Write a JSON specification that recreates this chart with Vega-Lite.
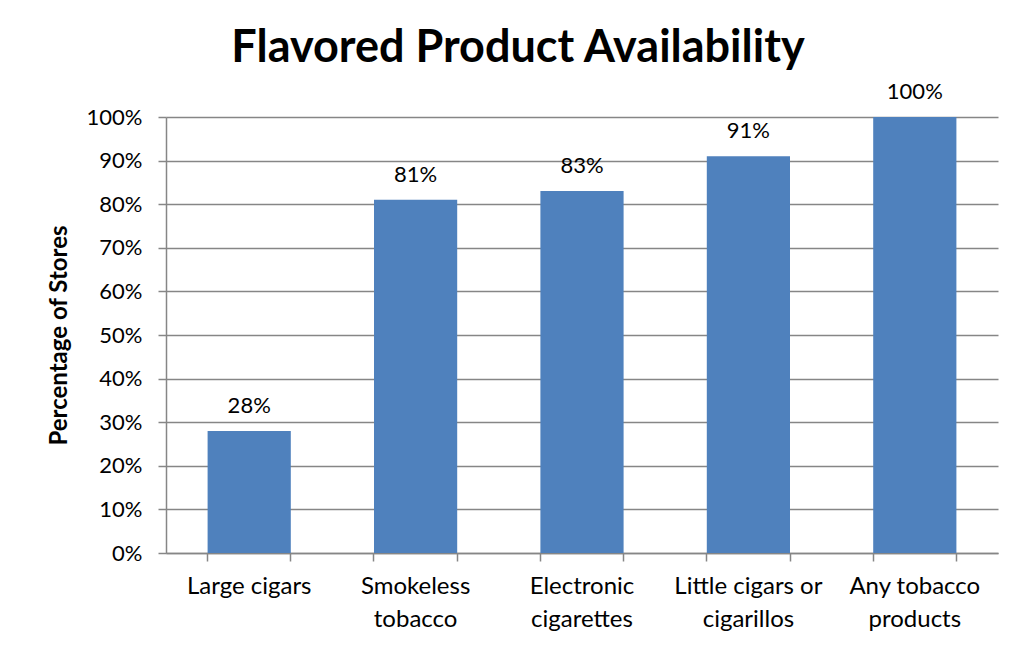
{
  "$schema": "https://vega.github.io/schema/vega-lite/v6.json",
  "width": 832,
  "height": 436,
  "autosize": "none",
  "padding": {"left": 166, "top": 117, "right": 18, "bottom": 96},
  "background": "white",
  "title": {
    "text": "Flavored Product Availability",
    "font": "Lato",
    "fontSize": 45,
    "fontWeight": "bold",
    "color": "black",
    "anchor": "middle",
    "baseline": "alphabetic",
    "dx": -64,
    "dy": 46,
    "offset": 20
  },
  "data": {
    "values": [
      {"category": "Large cigars", "share": 0.28},
      {"category": "Smokeless tobacco", "share": 0.81},
      {"category": "Electronic cigarettes", "share": 0.83},
      {"category": "Little cigars or cigarillos", "share": 0.91},
      {"category": "Any tobacco products", "share": 1.0}
    ]
  },
  "encoding": {
    "y": {
      "field": "share",
      "type": "quantitative",
      "scale": {"domain": [0, 1], "nice": false},
      "axis": {
        "title": "Percentage of Stores",
        "titleFont": "Lato",
        "titleFontSize": 24,
        "titleFontWeight": "bold",
        "titleColor": "black",
        "titlePadding": 15,
        "values": [0, 0.1, 0.2, 0.3, 0.4, 0.5, 0.6, 0.7, 0.8, 0.9, 1.0],
        "format": ".0%",
        "labelFont": "Lato",
        "labelFontSize": 22,
        "labelColor": "black",
        "labelPadding": 16,
        "domainColor": "#868686",
        "domainWidth": 1.5,
        "tickColor": "#868686",
        "tickWidth": 1.5,
        "tickSize": 8,
        "grid": true,
        "gridColor": "#868686",
        "gridWidth": 1.5
      }
    }
  },
  "layer": [
    {
      "mark": {"type": "bar", "color": "#4F81BD"},
      "encoding": {
        "x": {
          "field": "category",
          "type": "nominal",
          "sort": null,
          "scale": {"paddingInner": 0.5, "paddingOuter": 0.25},
          "axis": {
            "orient": "bottom",
            "title": null,
            "labelAngle": 0,
            "labelFont": "Lato",
            "labelFontSize": 24,
            "labelColor": "black",
            "labelPadding": 13,
            "labelLineHeight": 33,
            "labelExpr": "datum.value == 'Large cigars' ? datum.value : [substring(datum.value, 0, lastindexof(datum.value, ' ')), substring(datum.value, lastindexof(datum.value, ' ') + 1)]",
            "domainColor": "#868686",
            "domainWidth": 1.5,
            "tickColor": "#868686",
            "tickWidth": 1.5,
            "tickSize": 8,
            "bandPosition": 1,
            "grid": false
          }
        }
      }
    },
    {
      "mark": {"type": "text", "font": "Lato", "fontSize": 22, "color": "black", "baseline": "alphabetic", "dy": -18},
      "encoding": {
        "x": {
          "field": "category",
          "type": "nominal",
          "sort": null,
          "scale": {"paddingInner": 0.5, "paddingOuter": 0.25},
          "axis": {
            "orient": "bottom",
            "title": null,
            "labels": false,
            "domain": false,
            "tickColor": "#868686",
            "tickWidth": 1.5,
            "tickSize": 8,
            "bandPosition": 0,
            "grid": false
          }
        },
        "text": {"field": "share", "type": "quantitative", "format": ".0%"}
      }
    }
  ],
  "resolve": {"axis": {"x": "independent"}},
  "config": {"view": {"stroke": null}}
}
